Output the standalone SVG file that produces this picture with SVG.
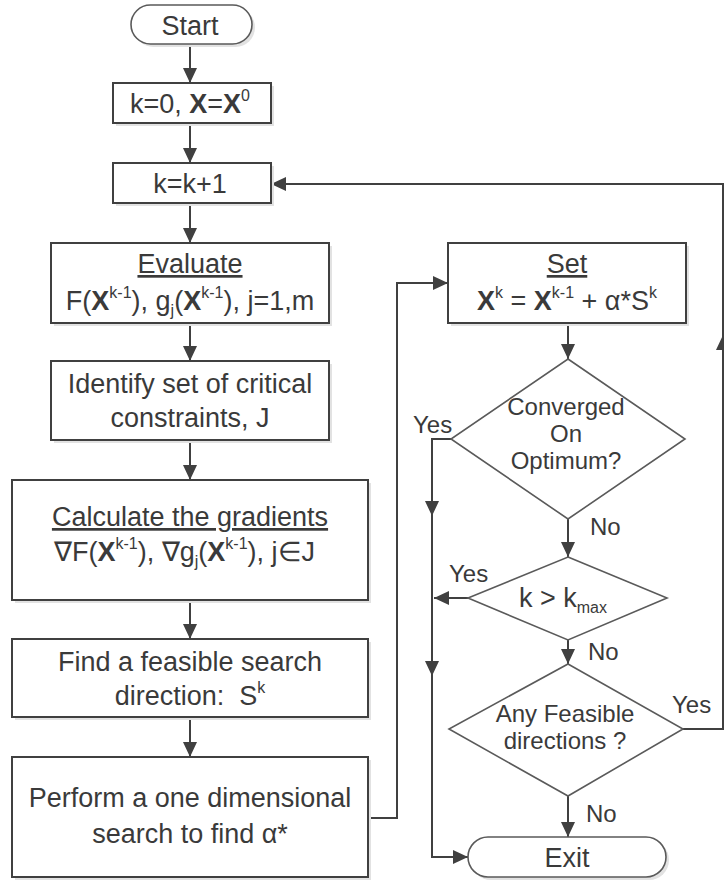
<svg xmlns="http://www.w3.org/2000/svg" width="724" height="882" viewBox="0 0 724 882">
  <style>
    .box { fill: #ffffff; stroke: #404040; stroke-width: 2; }
    .dia { fill: #ffffff; stroke: #5a5a5a; stroke-width: 1.6; }
    .term { fill: #ffffff; stroke: #5a5a5a; stroke-width: 1.6; }
    .shadow { fill: #e2e2e2; stroke: none; }
    .t { font-family: "Liberation Sans", Arial, sans-serif; font-size: 27px; fill: #3a3a3a; text-anchor: middle; }
    .d { font-family: "Liberation Sans", Arial, sans-serif; font-size: 24px; fill: #3a3a3a; text-anchor: middle; }
    .lbl { font-family: "Liberation Sans", Arial, sans-serif; font-size: 24px; fill: #3a3a3a; }
    .b { font-weight: bold; }
    .sup { font-size: 16px; }
    .conn { fill: none; stroke: #404040; stroke-width: 2; }
  </style>
  <defs>
    <marker id="arrow" markerUnits="userSpaceOnUse" markerWidth="16" markerHeight="16" refX="15" refY="8" orient="auto">
      <path d="M0,1 L15,8 L0,15 z" fill="#404040"/>
    </marker>
  </defs>

  <rect width="724" height="882" fill="#ffffff"/>

  <!-- connectors -->
  <g id="connectors">
    <path class="conn" d="M190,44 V83" marker-end="url(#arrow)"/>
    <path class="conn" d="M190,123 V163" marker-end="url(#arrow)"/>
    <path class="conn" d="M190,203 V243" marker-end="url(#arrow)"/>
    <path class="conn" d="M190,323 V361" marker-end="url(#arrow)"/>
    <path class="conn" d="M190,440 V480" marker-end="url(#arrow)"/>
    <path class="conn" d="M190,600 V639" marker-end="url(#arrow)"/>
    <path class="conn" d="M190,717 V757" marker-end="url(#arrow)"/>
    <!-- line search result feeds the update step -->
    <path class="conn" d="M368,818 H397 V283 H448" marker-end="url(#arrow)"/>
    <path class="conn" d="M568,323 V359" marker-end="url(#arrow)"/>
    <path class="conn" d="M568,519 V557" marker-end="url(#arrow)"/>
    <path class="conn" d="M568,640 V664" marker-end="url(#arrow)"/>
    <path class="conn" d="M568,796 V837" marker-end="url(#arrow)"/>
    <!-- exit path from the convergence / iteration checks -->
    <path class="conn" d="M451,439 H432 V857 H468" marker-end="url(#arrow)"/>
    <path class="conn" d="M432,500 V516" marker-end="url(#arrow)"/>
    <path class="conn" d="M432,660 V676" marker-end="url(#arrow)"/>
    <path class="conn" d="M468,598 H434" marker-end="url(#arrow)"/>
    <!-- loop back to next iteration -->
    <path class="conn" d="M683,729 H723 V184 H271" marker-end="url(#arrow)"/>
    <path class="conn" d="M723,352 V335" marker-end="url(#arrow)"/>
  </g>

  <!-- left column -->
  <g id="start">
    <rect class="shadow" x="134" y="8" width="121" height="39" rx="19.5"/>
    <rect class="term" x="131" y="5" width="121" height="39" rx="19.5"/>
    <text class="t" x="190" y="35">Start</text>
  </g>

  <g id="init">
    <rect class="shadow" x="116" y="86" width="158" height="40"/>
    <rect class="box" x="113" y="83" width="158" height="40"/>
    <text class="t" x="190" y="113">k=0, <tspan class="b">X</tspan>=<tspan class="b">X</tspan><tspan class="sup" dy="-12">0</tspan></text>
  </g>

  <g id="increment">
    <rect class="shadow" x="116" y="166" width="158" height="40"/>
    <rect class="box" x="113" y="163" width="158" height="40"/>
    <text class="t" x="190" y="193">k=k+1</text>
  </g>

  <g id="evaluate">
    <rect class="shadow" x="54" y="246" width="278" height="80"/>
    <rect class="box" x="51" y="243" width="278" height="80"/>
    <text class="t" x="190" y="273" text-decoration="underline">Evaluate</text>
    <text class="t" x="190" y="310">F(<tspan class="b">X</tspan><tspan class="sup" dy="-12">k-1</tspan><tspan dy="12">), g</tspan><tspan class="sup" dy="6">j</tspan><tspan dy="-6">(</tspan><tspan class="b">X</tspan><tspan class="sup" dy="-12">k-1</tspan><tspan dy="12">), j=1,m</tspan></text>
  </g>

  <g id="identify">
    <rect class="shadow" x="54" y="364" width="278" height="79"/>
    <rect class="box" x="51" y="361" width="278" height="79"/>
    <text class="t" x="190" y="393">Identify set of critical</text>
    <text class="t" x="190" y="427">constraints, J</text>
  </g>

  <g id="gradients">
    <rect class="shadow" x="15" y="483" width="356" height="120"/>
    <rect class="box" x="12" y="480" width="356" height="120"/>
    <text class="t" x="190" y="526" text-decoration="underline">Calculate the gradients</text>
    <text class="t" x="54" y="561" style="text-anchor:start">∇F(<tspan class="b">X</tspan><tspan class="sup" dy="-12">k-1</tspan><tspan dy="12">), ∇g</tspan><tspan class="sup" dy="6">j</tspan><tspan dy="-6">(</tspan><tspan class="b">X</tspan><tspan class="sup" dy="-12">k-1</tspan><tspan dy="12">), j∈J</tspan></text>
  </g>

  <g id="direction">
    <rect class="shadow" x="15" y="642" width="356" height="78"/>
    <rect class="box" x="12" y="639" width="356" height="78"/>
    <text class="t" x="190" y="671">Find a feasible search</text>
    <text class="t" x="190" y="705">direction:&#160; S<tspan class="sup" dy="-12">k</tspan></text>
  </g>

  <g id="linesearch">
    <rect class="shadow" x="15" y="760" width="356" height="120"/>
    <rect class="box" x="12" y="757" width="356" height="120"/>
    <text class="t" x="190" y="807">Perform a one dimensional</text>
    <text class="t" x="190" y="843">search to find α*</text>
  </g>

  <!-- right column -->
  <g id="update">
    <rect class="shadow" x="451" y="246" width="238" height="80"/>
    <rect class="box" x="448" y="243" width="238" height="80"/>
    <text class="t" x="567" y="273" text-decoration="underline">Set</text>
    <text class="t" x="567" y="310"><tspan class="b">X</tspan><tspan class="sup" dy="-12">k</tspan><tspan dy="12"> = </tspan><tspan class="b">X</tspan><tspan class="sup" dy="-12">k-1</tspan><tspan dy="12"> + α*S</tspan><tspan class="sup" dy="-12">k</tspan></text>
  </g>

  <g id="converged">
    <polygon class="dia" points="568,359 685,439 568,519 451,439"/>
    <text class="d" x="566" y="415">Converged</text>
    <text class="d" x="566" y="442">On</text>
    <text class="d" x="566" y="469">Optimum?</text>
  </g>

  <g id="maxiter">
    <polygon class="dia" points="568,557 667,598 568,640 468,598"/>
    <text class="t" x="563" y="607">k &gt; k<tspan class="sup" dy="6">max</tspan></text>
  </g>

  <g id="feasible">
    <polygon class="dia" points="568,664 683,729 568,796 449,729"/>
    <text class="d" x="565" y="722">Any Feasible</text>
    <text class="d" x="565" y="749">directions ?</text>
  </g>

  <g id="exit">
    <rect class="shadow" x="471" y="840" width="198" height="40" rx="20"/>
    <rect class="term" x="468" y="837" width="198" height="40" rx="20"/>
    <text class="t" x="567" y="867">Exit</text>
  </g>

  <!-- branch labels -->
  <g id="labels">
    <text class="lbl" x="413" y="433">Yes</text>
    <text class="lbl" x="590" y="535">No</text>
    <text class="lbl" x="449" y="582">Yes</text>
    <text class="lbl" x="588" y="660">No</text>
    <text class="lbl" x="672" y="713">Yes</text>
    <text class="lbl" x="586" y="822">No</text>
  </g>
</svg>
